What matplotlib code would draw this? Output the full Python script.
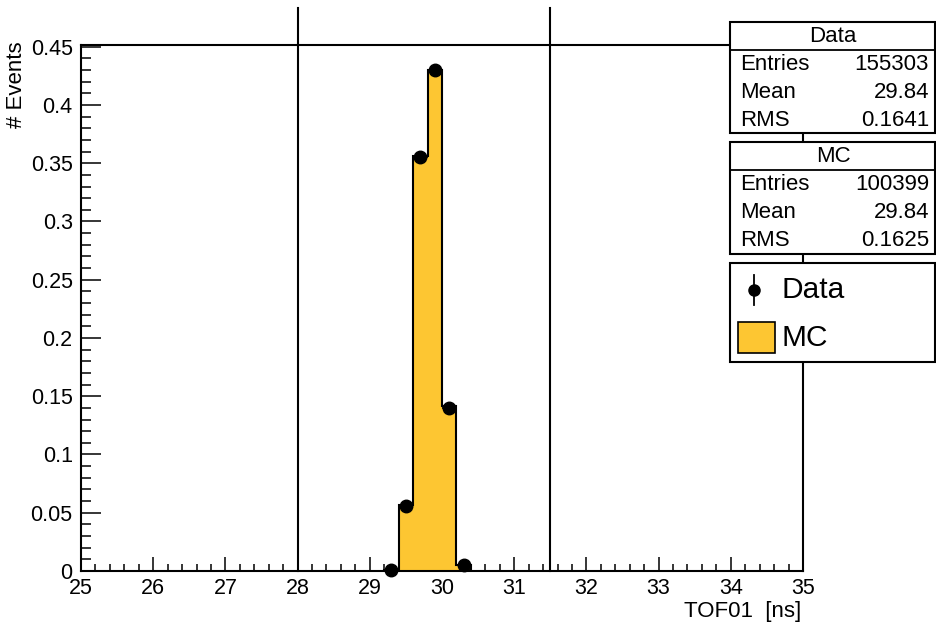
import numpy as np
import matplotlib
matplotlib.use("Agg")
import matplotlib.pyplot as plt
from matplotlib.ticker import MultipleLocator
from matplotlib.patches import Rectangle

plt.rcParams['font.family'] = ['Liberation Sans', 'DejaVu Sans']

# ---------------- data ----------------
bin_edges = [29.2, 29.4, 29.6, 29.8, 30.0, 30.2, 30.4]
mc_values = [0.0005, 0.057, 0.356, 0.430, 0.142, 0.005]
data_centers = [29.3, 29.5, 29.7, 29.9, 30.1, 30.3]
data_values = [0.0005, 0.056, 0.355, 0.430, 0.140, 0.005]
cut_lines = [28.0, 31.5]

stats_data = [("Entries", "155303"), ("Mean", "29.84"), ("RMS", "0.1641")]
stats_mc = [("Entries", "100399"), ("Mean", "29.84"), ("RMS", "0.1625")]

xlabel = "TOF01  [ns]"
ylabel = "# Events"
mc_color = "#FDC632"

W, H = 936, 625
fig = plt.figure(figsize=(W / 100, H / 100), dpi=100)

def fx(px):
    return px / W

def fy(py):
    return 1 - py / H

ax = fig.add_axes([fx(81), fy(571), fx(803) - fx(81), fy(45) - fy(571)])
ax.set_xlim(25, 35)
ymax = max(mc_values) * 1.05
ax.set_ylim(0, ymax)

# MC histogram (filled step)
edges = np.array(bin_edges)
vals = np.array(mc_values)
ax.fill_between(edges, np.append(vals, vals[-1]), step='post', color=mc_color, linewidth=0, zorder=2)
ax.stairs(vals, edges, color='black', linewidth=1.5, zorder=3)

# Data points
ax.errorbar(data_centers, data_values, xerr=0.1, fmt='o', color='black', ms=9,
            elinewidth=1.2, capsize=0, zorder=5, clip_on=False)

# cut lines (extend above the frame)
top_ext = ymax + (45 - 8) / (571 - 45) * ymax
for c in cut_lines:
    ax.plot([c, c], [0, top_ext], color='black', linewidth=1.5, clip_on=False, zorder=4)

# ticks
ax.xaxis.set_major_locator(MultipleLocator(1))
ax.xaxis.set_minor_locator(MultipleLocator(0.2))
ax.yaxis.set_major_locator(MultipleLocator(0.05))
ax.yaxis.set_minor_locator(MultipleLocator(0.01))
ax.tick_params(axis='x', which='major', direction='in', length=10, width=1.1, labelsize=15.5, pad=5)
ax.tick_params(axis='x', which='minor', direction='in', length=5, width=1.1)
ax.tick_params(axis='y', which='major', direction='in', length=14.4, width=1.1, labelsize=15.5, pad=6)
ax.tick_params(axis='y', which='minor', direction='in', length=7.2, width=1.1)
ax.set_xticks(np.arange(25, 36, 1))
ax.set_xticklabels([str(v) for v in range(25, 36)])
yt = np.round(np.arange(0, 0.451, 0.05), 2)
ax.set_yticks(yt)
ax.set_yticklabels(["0" if v == 0 else ("%g" % v) for v in yt])
for s in ax.spines.values():
    s.set_linewidth(1.5)

fig.text(fx(801), fy(611), xlabel, ha='right', va='center', fontsize=16)
fig.text(fx(17), fy(41), ylabel, ha='center', va='top', rotation=90, fontsize=16)

# ---------------- stats boxes ----------------
def stats_box(top, bottom, title, rows):
    x0, x1 = 730, 936
    rect = Rectangle((fx(x0), fy(bottom)), fx(x1 - 1) - fx(x0), fy(top) - fy(bottom),
                     transform=fig.transFigure, facecolor='white', edgecolor='black',
                     linewidth=1.5, zorder=10, clip_on=False)
    fig.add_artist(rect)
    h = (bottom - top) / 4.0
    sep = top + h
    fig.add_artist(plt.Line2D([fx(x0), fx(x1)], [fy(sep), fy(sep)], transform=fig.transFigure,
                              color='black', linewidth=1.3, zorder=11))
    fig.text(fx((x0 + x1) / 2), fy(top + h / 2 + 1), title, ha='center', va='center', fontsize=16, zorder=12)
    for i, (k, v) in enumerate(rows):
        yc = top + h * (i + 1.5) + 1
        fig.text(fx(740), fy(yc), k, ha='left', va='center', fontsize=16, zorder=12)
        fig.text(fx(929), fy(yc), v, ha='right', va='center', fontsize=16, zorder=12)

stats_box(22, 133, "Data", stats_data)
stats_box(142, 254, "MC", stats_mc)

# legend box
rect = Rectangle((fx(730), fy(362)), fx(935) - fx(730), fy(263) - fy(362),
                 transform=fig.transFigure, facecolor='white', edgecolor='black',
                 linewidth=1.5, zorder=10)
fig.add_artist(rect)
fig.add_artist(plt.Line2D([fx(754), fx(754)], [fy(275), fy(305)], transform=fig.transFigure,
                          color='black', linewidth=1.3, zorder=11))
fig.add_artist(plt.Line2D([fx(754)], [fy(290)], transform=fig.transFigure, marker='o',
                          color='black', ms=8, zorder=12))
fig.text(fx(781), fy(290), "Data", ha='left', va='center', fontsize=21.5, zorder=12)
fig.add_artist(Rectangle((fx(738), fy(353)), fx(775) - fx(738), fy(322) - fy(353),
                         transform=fig.transFigure, facecolor=mc_color, edgecolor='black',
                         linewidth=1.2, zorder=11))
fig.text(fx(781), fy(338), "MC", ha='left', va='center', fontsize=21.5, zorder=12)

fig.savefig("out.png", dpi=100)
